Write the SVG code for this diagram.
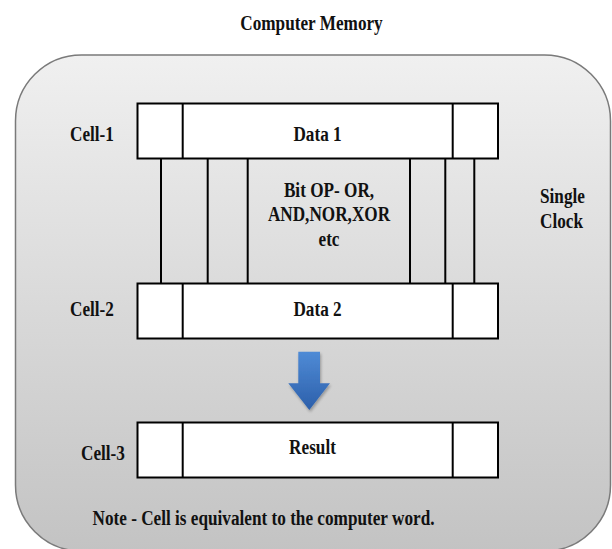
<svg xmlns="http://www.w3.org/2000/svg" width="612" height="549" viewBox="0 0 612 549">
  <defs>
    <linearGradient id="panelFill" x1="0" y1="0" x2="0" y2="1">
      <stop offset="0" stop-color="#f0f0f0"/>
      <stop offset="1" stop-color="#c3c3c3"/>
    </linearGradient>
    <linearGradient id="arrowFill" x1="0" y1="0" x2="0" y2="1">
      <stop offset="0" stop-color="#4f8bd6"/>
      <stop offset="1" stop-color="#2c5faa"/>
    </linearGradient>
    <filter id="soft" x="-20%" y="-20%" width="140%" height="140%">
      <feGaussianBlur in="SourceAlpha" stdDeviation="1.5"/>
      <feOffset dx="1" dy="2" result="b"/>
      <feComponentTransfer><feFuncA type="linear" slope="0.3"/></feComponentTransfer>
      <feMerge><feMergeNode/><feMergeNode in="SourceGraphic"/></feMerge>
    </filter>
  </defs>
  <style>
    text { font-family: "Liberation Serif", "Times New Roman", serif; font-weight: bold; font-size: 20px; fill: #111; }
    .mid { text-anchor: middle; }
    .box { fill: #ffffff; stroke: #000; stroke-width: 2; }
    .div { stroke: #000; stroke-width: 2; fill: none; }
    .bus { stroke: #000; stroke-width: 2; fill: none; }
  </style>

  <rect width="612" height="549" fill="#ffffff"/>

  <!-- title (labels use a slightly condensed serif) -->
  <text id="title" transform="translate(311.5 29.5) scale(0.86 1)" class="mid">Computer Memory</text>

  <!-- memory panel -->
  <g id="memory">
    <rect x="15.5" y="55" width="595" height="496" rx="66" ry="66" fill="url(#panelFill)" stroke="#7a7a7a" stroke-width="1.5"/>
  </g>

  <!-- bit lines between cell 1 and cell 2 -->
  <g id="connectors">
    <path class="bus" d="M161 158V283 M207.7 158V283 M247.7 158V283 M410 158V283 M445.3 158V283 M474.3 158V283"/>
  </g>

  <g id="cell1">
    <rect class="box" x="137.5" y="103.5" width="360.5" height="55"/>
    <path class="div" d="M182.7 103.5V158.5 M452.7 103.5V158.5"/>
    <text transform="translate(317.5 141) scale(0.86 1)" class="mid">Data 1</text>
  </g>
  <text id="cell1-label" transform="translate(70 141) scale(0.86 1)">Cell-1</text>

  <g id="bitop">
    <text transform="translate(329 196.5) scale(0.86 1)" class="mid">Bit OP- OR,</text>
    <text transform="translate(329 221) scale(0.86 1)" class="mid">AND,NOR,XOR</text>
    <text transform="translate(329 246) scale(0.86 1)" class="mid">etc</text>
  </g>

  <g id="clock">
    <text transform="translate(540 203) scale(0.86 1)">Single</text>
    <text transform="translate(540 227.5) scale(0.86 1)">Clock</text>
  </g>

  <g id="cell2">
    <rect class="box" x="137.5" y="283.5" width="360.5" height="55"/>
    <path class="div" d="M182.7 283.5V338.5 M452.7 283.5V338.5"/>
    <text transform="translate(317.5 315.5) scale(0.86 1)" class="mid">Data 2</text>
  </g>
  <text id="cell2-label" transform="translate(70 315.5) scale(0.86 1)">Cell-2</text>

  <!-- down arrow -->
  <g id="arrow" filter="url(#soft)">
    <path d="M298.3 351.7H320V383.3H330L309.3 410L288.3 383.3H298.3Z" fill="url(#arrowFill)"/>
  </g>

  <g id="cell3">
    <rect class="box" x="137.5" y="422.5" width="360.5" height="55"/>
    <path class="div" d="M182.7 422.5V477.5 M452.7 422.5V477.5"/>
    <text transform="translate(312.5 453.5) scale(0.86 1)" class="mid">Result</text>
  </g>
  <text id="cell3-label" transform="translate(81 460) scale(0.86 1)">Cell-3</text>

  <text id="note" transform="translate(92.5 525) scale(0.86 1)">Note - Cell is equivalent to the computer word.</text>
</svg>
